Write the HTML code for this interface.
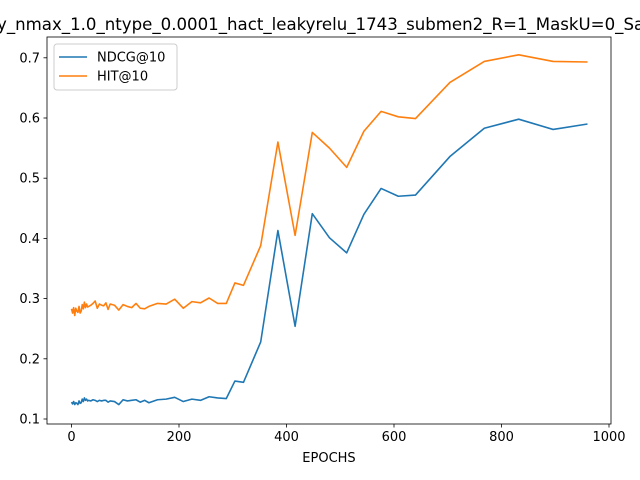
<!DOCTYPE html>
<html><head><meta charset="utf-8"><style>
html,body{margin:0;padding:0;background:#fff;}
svg{display:block;font-family:"DejaVu Sans","Liberation Sans",sans-serif;}
</style></head><body>
<svg id="chart" width="640" height="480" viewBox="0 0 640 480" xmlns="http://www.w3.org/2000/svg">
<rect width="640" height="480" fill="#fff"/>
<text x="-3" y="30" font-size="16.6" fill="#000">y_nmax_1.0_ntype_0.0001_hact_leakyrelu_1743_submen2_R=1_MaskU=0_Sampling</text>
<g id="plot"></g>
</svg>
<script>
const epochs=[0,2,4,6,8,10,12,14,16,18,20,22,24,26,28,30,32,36,40,44,48,52,56,60,64,68,72,80,88,96,104,112,120,128,136,144,160,176,192,208,224,240,256,272,288,304,320,352,384,416,448,480,512,544,576,608,640,704,768,832,896,960];
const ndcg=[0.128,0.125,0.129,0.124,0.127,0.126,0.124,0.130,0.126,0.127,0.133,0.129,0.135,0.131,0.133,0.130,0.131,0.130,0.132,0.131,0.129,0.131,0.130,0.131,0.131,0.128,0.130,0.129,0.124,0.132,0.130,0.131,0.132,0.128,0.131,0.127,0.132,0.133,0.136,0.129,0.133,0.131,0.137,0.135,0.134,0.163,0.161,0.228,0.413,0.254,0.441,0.401,0.376,0.440,0.483,0.470,0.472,0.536,0.583,0.598,0.581,0.590];
const hit=[0.283,0.276,0.285,0.272,0.284,0.279,0.277,0.287,0.276,0.279,0.290,0.283,0.294,0.285,0.291,0.286,0.287,0.289,0.292,0.296,0.284,0.291,0.289,0.288,0.293,0.282,0.291,0.289,0.281,0.290,0.287,0.285,0.292,0.284,0.283,0.287,0.292,0.291,0.299,0.284,0.295,0.293,0.301,0.292,0.292,0.326,0.322,0.388,0.560,0.405,0.576,0.550,0.518,0.578,0.611,0.602,0.599,0.659,0.694,0.705,0.694,0.693];
const xTicks=[0,200,400,600,800,1000];
const yTicks=[0.1,0.2,0.3,0.4,0.5,0.6,0.7];
const seriesNames=["NDCG@10","HIT@10"];
const colors=["#1f77b4","#ff7f0e"];

const L=47,R=611,T=37,B=424;
const x=v=>71.5+v*0.5375;
const y=v=>419-(v-0.1)*602;
const NS="http://www.w3.org/2000/svg";
const g=document.getElementById('plot');
function mk(tag,attrs){const e=document.createElementNS(NS,tag);for(const k in attrs)e.setAttribute(k,attrs[k]);g.appendChild(e);return e;}

[ndcg,hit].forEach((s,i)=>{
  const p=mk('polyline',{points:s.map((v,j)=>x(epochs[j]).toFixed(2)+','+y(v).toFixed(2)).join(' '),fill:'none',stroke:colors[i],'stroke-width':1.6,'stroke-linejoin':'round'});
  
  
});
const frame=mk('rect',{x:L,y:T,width:R-L,height:B-T,fill:'none',stroke:'#000','stroke-width':0.8});


xTicks.forEach(t=>{
  const tk=mk('line',{x1:x(t),x2:x(t),y1:B,y2:B+3.5,stroke:'#000','stroke-width':0.8});
  
  
  const tx=mk('text',{x:x(t),y:B+17,'font-size':13,'text-anchor':'middle'});
  tx.textContent=t;
  
  
});
yTicks.forEach(t=>{
  const tk=mk('line',{x1:L-3.5,x2:L,y1:y(t),y2:y(t),stroke:'#000','stroke-width':0.8});
  
  
  const tx=mk('text',{x:L-7,y:y(t)+4.5,'font-size':13,'text-anchor':'end'});
  tx.textContent=t.toFixed(1);
  
  
});
const xl=mk('text',{x:(L+R)/2,y:462,'font-size':13,'text-anchor':'middle'});
xl.textContent='EPOCHS';


const lg=mk('rect',{x:54,y:44,width:123,height:46,rx:3,fill:'#fff',stroke:'#ccc','stroke-width':1});


seriesNames.forEach((n,i)=>{
  const yy=57+i*19;
  const ln=mk('line',{x1:59,x2:87,y1:yy,y2:yy,stroke:colors[i],'stroke-width':1.6});
  
  
  const tx=mk('text',{x:97,y:yy+4.5,'font-size':13});
  tx.textContent=n;
  
  
});
</script>
</body></html>
